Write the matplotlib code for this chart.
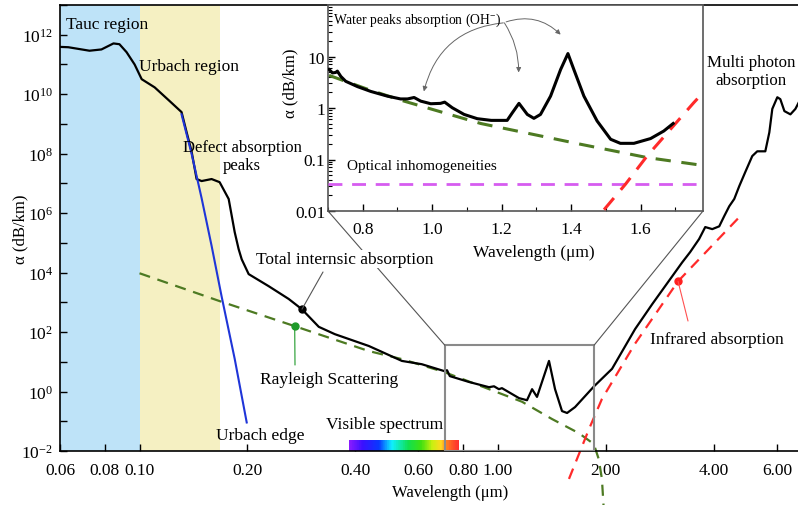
import numpy as np
import matplotlib
matplotlib.use("Agg")
import matplotlib.pyplot as plt
from matplotlib.ticker import FixedLocator, FuncFormatter, NullLocator, LogLocator, MultipleLocator, NullFormatter
from matplotlib.colors import LinearSegmentedColormap
from matplotlib.patches import Rectangle, ConnectionPatch

plt.rcParams['font.family'] = ['Liberation Serif', 'DejaVu Serif']
plt.rcParams['mathtext.fontset'] = 'custom'
plt.rcParams['mathtext.rm'] = 'Liberation Serif'
plt.rcParams['mathtext.it'] = 'Liberation Serif:italic'

# ---------------- data (wavelength in um, alpha in dB/km) ----------------
total_wl = [0.060, 0.0633, 0.0725, 0.0783, 0.0846, 0.0879, 0.0920, 0.0969, 0.1014, 0.1102,
            0.1213, 0.1310, 0.1352, 0.1397, 0.1443, 0.1490, 0.1589, 0.1673, 0.1773, 0.1843,
            0.1890, 0.1928, 0.2016, 0.2292, 0.2607, 0.2836, 0.3163, 0.3507, 0.4363, 0.5395,
            0.613, 0.707, 0.721, 0.734, 0.830, 0.944, 0.975, 1.006, 1.026, 1.145,
            1.205, 1.245, 1.285, 1.388, 1.443, 1.509, 1.559, 1.641, 1.854, 2.081,
            2.413, 2.694, 3.022, 3.265, 3.437, 3.641, 3.787, 3.962, 4.143, 4.277,
            4.418, 4.563, 4.712, 4.897, 5.122, 5.289, 5.570, 5.716, 5.826, 6.017,
            6.134, 6.297, 6.545, 6.758, 6.980]
total_alpha = [3.9e11, 3.8e11, 2.9e11, 3.2e11, 5.1e11, 4.8e11, 2.6e11, 1.0e11, 3.2e10, 1.7e10,
               5.9e9, 2.5e9, 5.5e8, 1.2e8, 1.4e7, 1.2e7, 1.4e7, 1.1e7, 3.0e6, 2.3e5,
               6.2e4, 2.8e4, 8.9e3, 3.5e3, 1.3e3, 590, 150, 85, 34, 10.7,
               8.3, 4.9, 5.2, 3.3, 2.1, 1.4, 1.5, 1.2, 1.3, 0.60,
               0.51, 1.2, 0.66, 10.7, 1.2, 0.22, 0.19, 0.30, 1.5, 5.8,
               126, 870, 6.0e3, 2.2e4, 4.9e4, 1.35e5, 3.4e5, 2.9e5, 3.6e5, 7.9e5,
               1.7e6, 3.0e6, 8.1e6, 2.4e7, 8.3e7, 1.2e8, 1.2e8, 5.2e8, 3.2e9, 7.9e9,
               6.8e9, 2.7e9, 2.1e9, 3.2e9, 6.8e9]

urbach_wl = [0.1310, 0.1397, 0.1490, 0.1589, 0.1694, 0.1843, 0.1991]
urbach_alpha = [2.1e9, 1.0e8, 3.2e6, 7.9e4, 1.6e3, 12.6, 0.091]

rayleigh_wl = [0.100, 0.1673, 0.271, 0.436, 0.5395, 0.705, 1.167, 1.415, 1.680, 1.851, 1.91, 1.95, 1.97]
rayleigh_alpha = [9.5e3, 1.1e3, 158, 23, 12.3, 4.6, 0.454, 0.119, 0.040, 0.0172, 0.0054, 0.00115, 0.00015]

ir_wl = [1.578, 1.795, 1.95, 2.41, 3.18, 4.74]
ir_alpha = [0.00115, 0.055, 0.56, 40, 5.1e3, 7.9e5]

# inset
in_wl = [0.703, 0.713, 0.722, 0.727, 0.737, 0.751, 0.785, 0.823, 0.871, 0.909,
         0.929, 0.948, 0.967, 0.996, 1.024, 1.036, 1.058, 1.092, 1.130, 1.170,
         1.216, 1.231, 1.250, 1.274, 1.293, 1.312, 1.341, 1.370, 1.391, 1.408,
         1.437, 1.475, 1.514, 1.542, 1.581, 1.629, 1.667, 1.694]
in_alpha = [5.6, 4.8, 4.9, 5.2, 4.1, 3.3, 2.6, 2.1, 1.7, 1.5,
            1.5, 1.6, 1.36, 1.21, 1.23, 1.30, 1.01, 0.75, 0.62, 0.575,
            0.575, 0.81, 1.23, 0.75, 0.63, 0.75, 1.7, 5.6, 11.4, 5.6,
            1.7, 0.56, 0.247, 0.206, 0.206, 0.255, 0.357, 0.50]
in_ray_wl = [0.703, 0.823, 0.919, 1.14, 1.427, 1.619, 1.79]
in_ray_alpha = [4.3, 2.2, 1.36, 0.50, 0.198, 0.109, 0.075]
in_ir_wl = [1.495, 1.557, 1.619, 1.753, 1.784]
in_ir_alpha = [0.0106, 0.0333, 0.117, 1.26, 2.12]
inhom_level = 0.033

x_ticks = [0.06, 0.08, 0.10, 0.20, 0.40, 0.60, 0.80, 1.00, 2.00, 4.00, 6.00]
x_ticklabels = ['0.06', '0.08', '0.10', '0.20', '0.40', '0.60', '0.80', '1.00', '2.00', '4.00', '6.00']
in_yticks = [0.01, 0.1, 1, 10]
in_yticklabels = ['0.01', '0.1', '1', '10']
in_xticks = [0.8, 1.0, 1.2, 1.4, 1.6]
in_xticklabels = ['0.8', '1.0', '1.2', '1.4', '1.6']

tauc_span = (0.06, 0.10)
urbach_span = (0.10, 0.168)
visible_span = (0.384, 0.778)
zoom_box = (0.711, 1.854, 0.01, 36)

# ---------------- figure ----------------
W, H = 798, 506
fig = plt.figure(figsize=(W / 100, H / 100), dpi=100)

def F(x, y):
    return (x / W, 1 - y / H)

ax = fig.add_axes([60 / W, 54 / H, 780 / W, 446 / H])
ax.set_xscale('log')
ax.set_yscale('log')
ax.set_xlim(0.06, 9.0)
ax.set_ylim(1e-2, 1e13)

ax.axvspan(*tauc_span, color='#BEE3F8', lw=0, zorder=0)
ax.axvspan(*urbach_span, color='#F5F0C2', lw=0, zorder=0)

ax.plot(total_wl, total_alpha, color='black', lw=1.6, zorder=3)
ax.plot(urbach_wl, urbach_alpha, color='#1f35d8', lw=1.5, zorder=4)
ax.plot(rayleigh_wl, rayleigh_alpha, color='#4d7a22', lw=1.6, dashes=(5, 3.5), zorder=2, clip_on=False)
ax.plot(ir_wl, ir_alpha, color='#ff2a2a', lw=1.6, dashes=(5, 3.5), zorder=2, clip_on=False)

# visible spectrum bar
spec_cmap = LinearSegmentedColormap.from_list('vis', [
    (0.0, '#8a1cff'), (0.12, '#3a10ff'), (0.27, '#0838ff'), (0.39, '#10f0ff'),
    (0.54, '#10e050'), (0.66, '#40e010'), (0.76, '#c8f010'), (0.84, '#ffd820'),
    (0.89, '#ff8020'), (0.95, '#ff5028'), (1.0, '#ff3030')])
xe = np.geomspace(visible_span[0], visible_span[1], 161)
ye = [1e-2, 10 ** (-2 + 11 / 29.73)]
ax.pcolormesh(xe, ye, np.linspace(0, 1, 160)[None, :], cmap=spec_cmap, shading='flat', zorder=2)

# zoom box
bx0, bx1, by0, by1 = zoom_box
ax.add_patch(Rectangle((bx0, by0), bx1 - bx0, by1 - by0, fill=False, edgecolor='#8a8a8a', lw=1.5, zorder=5))

# ticks
ax.xaxis.set_major_locator(FixedLocator(x_ticks))
ax.xaxis.set_major_formatter(FuncFormatter(lambda v, p: x_ticklabels[p] if p is not None and p < len(x_ticklabels) else ''))
ax.xaxis.set_minor_locator(NullLocator())
ydec = list(range(-2, 14))
ax.yaxis.set_major_locator(FixedLocator([10.0 ** e for e in ydec]))
def yfmt(v, p):
    e = int(round(np.log10(v)))
    return r'$10^{%d}$' % e if (e % 2 == 0 and e <= 12) else ''
ax.yaxis.set_major_formatter(FuncFormatter(yfmt))
ax.yaxis.set_minor_locator(NullLocator())
ax.tick_params(axis='both', which='both', direction='in', length=5, width=1, labelsize=12.5, colors='black')
ax.tick_params(axis='x', pad=8)
ax.tick_params(axis='y', pad=5)
for s in ax.spines.values():
    s.set_linewidth(1.2)

ax.set_xlabel('Wavelength (μm)', fontsize=12)
ax.set_ylabel('α (dB/km)', fontsize=12)
ax.xaxis.set_label_coords(0.5, -0.074)
ax.yaxis.set_label_coords(-0.041, 0.5)

# annotations on main
tk = dict(fontsize=12.5, color='black')
fig.text(*F(66, 25), 'Tauc region', ha='left', va='center', **tk)
fig.text(*F(139, 67), 'Urbach region', ha='left', va='center', **tk)
fig.text(*F(242, 157), 'Defect absorption\npeaks', ha='center', va='center', multialignment='center', linespacing=1.15, fontsize=12)
fig.text(*F(260, 436), 'Urbach edge', ha='center', va='center', **tk)
fig.text(*F(385, 425), 'Visible spectrum', ha='center', va='center', **tk)
fig.text(*F(751, 72), 'Multi photon\nabsorption', ha='center', va='center', multialignment='center',
         linespacing=1.1, fontsize=12.2)

ax.plot([0.284], [590], 'o', color='black', ms=5, zorder=6)
ax.annotate('', xy=(0.284, 590), xytext=F(323, 273), textcoords='figure fraction',
            arrowprops=dict(arrowstyle='-', color='#555555', lw=0.8, shrinkA=0, shrinkB=0), zorder=6)

ax.plot([0.271], [158], 'o', color='#1f9a2a', ms=5, zorder=6)
ax.annotate('', xy=(0.271, 158), xytext=F(295, 366), textcoords='figure fraction',
            arrowprops=dict(arrowstyle='-', color='#1f9a2a', lw=0.8, shrinkA=0, shrinkB=0), zorder=6)
fig.text(*F(329, 380), 'Rayleigh Scattering', ha='center', va='center', **tk)

ax.plot([3.18], [5.1e3], 'o', color='#ff2020', ms=5, zorder=6)
ax.annotate('', xy=(3.18, 5.1e3), xytext=F(688, 322), textcoords='figure fraction',
            arrowprops=dict(arrowstyle='-', color='#ff5050', lw=0.8, shrinkA=0, shrinkB=0), zorder=6)
fig.text(*F(717, 340), 'Infrared absorption', ha='center', va='center', **tk)

# ---------------- inset ----------------
axi = fig.add_axes([328 / W, (H - 212) / H, 375 / W, 206 / H], zorder=10)
axi.set_facecolor('white')
axi.set_yscale('log')
axi.set_xlim(0.70, 1.78)
axi.set_ylim(0.01, 100)
axi.plot(in_wl, in_alpha, color='black', lw=2.2, zorder=4)
axi.plot(in_ray_wl, in_ray_alpha, color='#4d7a22', lw=2.2, dashes=(5, 3.5), zorder=3, clip_on=False)
axi.axhline(inhom_level, color='#d65cf0', lw=2.0, dashes=(5, 3.5), zorder=3)
axi.plot(in_ir_wl, in_ir_alpha, color='#ff2a2a', lw=2.2, dashes=(5, 3.5), zorder=3)

axi.yaxis.set_major_locator(FixedLocator(in_yticks))
axi.yaxis.set_major_formatter(FuncFormatter(lambda v, p: in_yticklabels[p] if p is not None and p < len(in_yticklabels) else ''))
axi.yaxis.set_minor_locator(LogLocator(base=10, subs=np.arange(2, 10)))
axi.yaxis.set_minor_formatter(NullFormatter())
axi.xaxis.set_major_locator(FixedLocator(in_xticks))
axi.xaxis.set_major_formatter(FuncFormatter(lambda v, p: in_xticklabels[p] if p is not None and p < len(in_xticklabels) else ''))
axi.xaxis.set_minor_locator(MultipleLocator(0.1))
axi.tick_params(axis='both', which='major', direction='in', length=5, width=1, labelsize=12.5)
axi.tick_params(axis='both', which='minor', direction='in', length=3, width=0.8)
axi.tick_params(axis='x', which='both', pad=7)
axi.tick_params(axis='y', which='both', pad=2)
for s in axi.spines.values():
    s.set_linewidth(1.2)
    s.set_color('#555555')
axi.set_xlabel('Wavelength (μm)', fontsize=12.5)
axi.set_ylabel('α (dB/km)', fontsize=12)
axi.xaxis.set_label_coords(0.55, -0.16)
axi.yaxis.set_label_coords(-0.08, 0.626)

axi.text(0.714, 52, r'Water peaks absorption (OH$^{-}$)', fontsize=9.8, ha='left', va='center', zorder=6)
axi.text(0.755, 0.078, 'Optical inhomogeneities', fontsize=11, ha='left', va='center', zorder=6)
arr = dict(arrowstyle='-|>', color='#666666', lw=0.7, mutation_scale=7, shrinkA=0, shrinkB=0)
axi.annotate('', xy=(0.976, 2.1), xytext=(1.205, 45), arrowprops=dict(connectionstyle='arc3,rad=0.35', **arr))
axi.annotate('', xy=(1.249, 4.9), xytext=(1.208, 45), arrowprops=dict(connectionstyle='arc3,rad=-0.15', **arr))
axi.annotate('', xy=(1.370, 26.6), xytext=(1.213, 47), arrowprops=dict(connectionstyle='arc3,rad=-0.3', **arr))

# connectors from inset to box
for (ix, bx) in [(0.0, bx0), (1.0, bx1)]:
    cp = ConnectionPatch(xyA=(ix, 0.0), coordsA=axi.transAxes, xyB=(bx, by1), coordsB=ax.transData,
                         color='#555555', lw=0.8, zorder=6)
    fig.add_artist(cp)
# label drawn over the connector with a white box
fig.text(*F(345, 260), 'Total internsic absorption', ha='center', va='center',
         bbox=dict(facecolor='white', edgecolor='none', pad=1), zorder=20, **tk)

fig.savefig('out.png', dpi=100)
